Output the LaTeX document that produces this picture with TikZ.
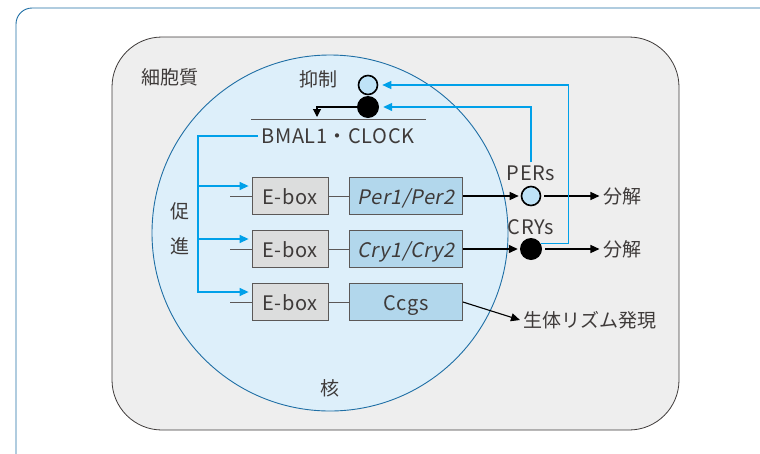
\documentclass[tikz,border=0pt]{standalone}
\usepackage{fontspec}
\setmainfont{Noto Sans CJK JP}[AutoFakeSlant=0.2]
\newfontfamily\latin{Noto Sans CJK JP}[LetterSpace=3,AutoFakeSlant=0.2]
\usetikzlibrary{arrows.meta}
\definecolor{cyanline}{HTML}{00A0E9}
\definecolor{frameblue}{HTML}{1F6FA5}
\definecolor{nucfill}{HTML}{DDEFFA}
\definecolor{cellfill}{HTML}{EEEEEE}
\definecolor{genefill}{HTML}{B2D7EC}
\definecolor{eboxfill}{HTML}{DCDDDD}
\definecolor{perfill}{HTML}{BFE3F7}
\definecolor{ink}{HTML}{3E3A39}

\begin{document}
\begin{tikzpicture}[x=1pt,y=-1pt,
    every node/.style={text=ink,font=\fontsize{19}{21}\selectfont},
    lat/.style={font=\latin\fontsize{20}{22}\selectfont},
    ebox/.style={lat,draw=ink!85,fill=eboxfill,line width=0.8pt,minimum width=76pt,minimum height=37pt,inner sep=0pt,text height=17pt,text depth=1pt},
    gene/.style={ebox,fill=genefill,minimum width=113pt},
    feed/.style={cyanline,line width=1.3pt,-{Triangle[length=9pt,width=8pt]}},
    flow/.style={black,line width=1.3pt,-{Triangle[length=9pt,width=8pt]}},
    link/.style={ink!85,line width=0.8pt}]
  \clip (0,0) rectangle (760,453);
  % frame, cell, nucleus
  \draw[frameblue,line width=0.9pt,rounded corners=16pt] (16,8) rectangle (800,490);
  \draw[ink,fill=cellfill,line width=0.8pt,rounded corners=50pt] (112,37) rectangle (679,430);
  \node[circle,draw=frameblue,fill=nucfill,line width=0.9pt,minimum size=356pt] (nuc) at (330,233) {};
  \node (cyto) at (170,77) {細胞質};
  \node (kaku) at (330,388) {核};

  % repression
  \node (yoku) at (318,79) {抑制};
  \node[circle,draw=black,line width=1.6pt,fill=perfill,minimum size=19pt,inner sep=0pt] (c1) at (368,85) {};
  \node[circle,fill=black,minimum size=22pt,inner sep=0pt] (c2) at (368,107) {};
  \coordinate (down) at (317,117);
  \draw[flow,line width=1.1pt,-{Triangle[length=8pt,width=8pt]}] (c2.west) -| (down);
  \draw[link,line width=0.9pt] (251,119) -- (426,119);
  \node[lat] (bmal) at (338,136) {BMAL1・CLOCK};

  % promotion
  \node (soku) at (180,211) {促};
  \node (shin) at (180,246) {進};
  \node[ebox] (e1) at (290,196) {E-box};
  \node[gene] (g1) at (406,196) {\itshape Per1/Per2};
  \node[ebox] (e2) at (290,249) {E-box};
  \node[gene] (g2) at (406,249) {\itshape Cry1/Cry2};
  \node[ebox] (e3) at (290,302) {E-box};
  \node[gene] (g3) at (406,302) {Ccgs};
  \draw[link] (e1.west) -- ++(-22,0) (e1.east) -- (g1.west);
  \draw[link] (e2.west) -- ++(-22,0) (e2.east) -- (g2.west);
  \draw[link] (e3.west) -- ++(-22,0) (e3.east) -- (g3.west);
  \coordinate (fork) at (198,136);
  \coordinate (in1) at ([yshift=10pt]e1.west);
  \coordinate (in2) at ([yshift=10pt]e2.west);
  \coordinate (in3) at ([yshift=10pt]e3.west);
  \draw[feed,shorten >=3pt] (bmal.west) -- (fork) |- (in3);
  \draw[feed,shorten >=3pt] (fork |- in1) -- (in1);
  \draw[feed,shorten >=3pt] (fork |- in2) -- (in2);

  % proteins
  \node[lat] (perlbl) at (531,173) {PERs};
  \node[lat] (crylbl) at (531,227) {CRYs};
  \node[circle,draw=black,line width=1.6pt,fill=perfill,minimum size=19pt,inner sep=0pt] (pers) at (531,196) {};
  \node[circle,fill=black,minimum size=22pt,inner sep=0pt] (crys) at (531,249) {};
  \node (dec1) at (622,196) {分解};
  \node (dec2) at (622,249) {分解};
  \node (rhythm) at (590,320) {生体リズム発現};
  \draw[flow,shorten >=2pt] (g1.east) -- (pers);
  \draw[flow,shorten >=2pt] (g2.east) -- (crys);
  \draw[flow,shorten <=3pt] (pers) -- (dec1);
  \draw[flow,shorten <=3pt] (crys) -- (dec2);
  \draw[flow,line width=1.1pt] (g3.east) -- (rhythm.west);

  % feedback
  \draw[feed,shorten >=4pt] (perlbl.north) |- (c2.east);
  \draw[feed,shorten >=4pt] (crys.30) -- ++(28,0) |- (c1.east);
\end{tikzpicture}
\end{document}
